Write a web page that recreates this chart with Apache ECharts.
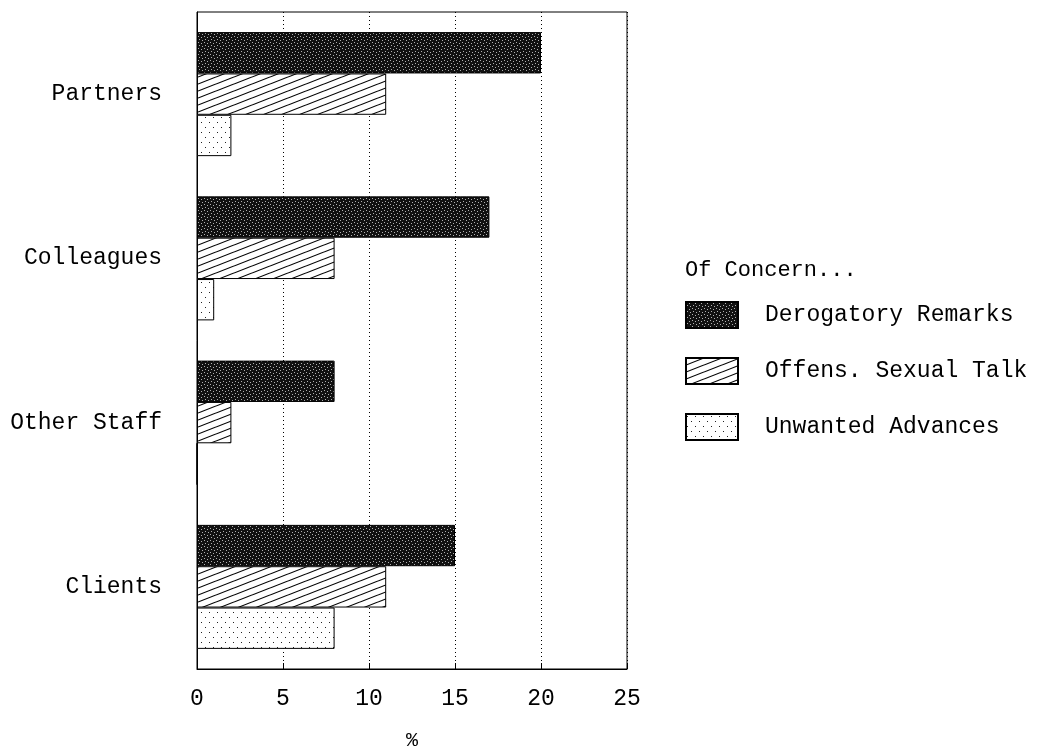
<!DOCTYPE html>
<html>
<head>
<meta charset="utf-8">
<script src="https://cdn.jsdelivr.net/npm/echarts@6/dist/echarts.min.js"></script>
<style>html,body{margin:0;padding:0;background:#fff;}#chart{width:1048px;height:746px;}</style>
</head>
<body>
<div id="chart"></div>
<script>
const categories = ['Partners', 'Colleagues', 'Other Staff', 'Clients'];
const seriesNames = ['Derogatory Remarks', 'Offens. Sexual Talk', 'Unwanted Advances'];
const derogatory = [20, 17, 8, 15];
const offensTalk = [11, 8, 2, 11];
const unwanted = [2, 1, 0, 8];
const xTicks = [0, 5, 10, 15, 20, 25];

function makeTile(w, h, draw) {
  const c = document.createElement('canvas');
  c.width = w; c.height = h;
  const ctx = c.getContext('2d');
  draw(ctx, w, h);
  return { image: c, repeat: 'repeat' };
}
const darkPattern = makeTile(6, 6, (ctx) => {
  ctx.fillStyle = '#111'; ctx.fillRect(0, 0, 6, 6);
  ctx.fillStyle = '#b0b0b0';
  [[0,0],[3,1],[1,3],[4,4]].forEach(p => ctx.fillRect(p[0], p[1], 1, 1));
});
const hatchPattern = makeTile(18, 7, (ctx) => {
  ctx.fillStyle = '#fff'; ctx.fillRect(0, 0, 18, 7);
  ctx.strokeStyle = '#000'; ctx.lineWidth = 1.1;
  for (let k = -1; k <= 1; k++) {
    ctx.beginPath();
    ctx.moveTo(-18 + k * 18, 14);
    ctx.lineTo(36 + k * 18, -7);
    ctx.stroke();
  }
});
const dotPattern = makeTile(8, 10, (ctx) => {
  ctx.fillStyle = '#fff'; ctx.fillRect(0, 0, 8, 10);
  ctx.fillStyle = '#222';
  ctx.fillRect(1, 2, 1, 1);
  ctx.fillRect(5, 7, 1, 1);
});

const font = '"Liberation Mono", "DejaVu Sans Mono", monospace';
const chart = echarts.init(document.getElementById('chart'), null, { renderer: 'canvas' });
const mk = (name, data, color) => ({
  name, type: 'bar', data,
  barGap: '0%', barCategoryGap: '24.5%',
  itemStyle: { color, borderColor: '#000', borderWidth: 1 },
  emphasis: { disabled: true },
  animation: false
});
chart.setOption({
  animation: false,
  backgroundColor: '#fff',
  title: {
    text: 'Of Concern...', left: 680, top: 254,
    textStyle: { fontFamily: font, fontSize: 22, fontWeight: 'normal', color: '#000' }
  },
  legend: {
    orient: 'vertical', left: 680, top: 296,
    itemWidth: 52, itemHeight: 26, itemGap: 28,
    icon: 'rect',
    textStyle: { fontFamily: font, fontSize: 23, color: '#000', padding: [0, 0, 0, 22] },
    data: seriesNames
  },
  grid: { left: 197, right: 421, top: 12, bottom: 77, outerBoundsMode: 'none', containLabel: false,
    show: true, borderColor: '#000', borderWidth: 1 },
  xAxis: {
    type: 'value', min: 0, max: 25, interval: 5,
    name: '%', nameLocation: 'middle', nameGap: 62,
    nameTextStyle: { fontFamily: font, fontSize: 20, color: '#000' },
    axisLine: { show: true, lineStyle: { color: '#000' } },
    axisTick: { show: true, inside: true, length: 6, lineStyle: { color: '#000' } },
    axisLabel: { fontFamily: font, fontSize: 23, color: '#000', margin: 18,
      formatter: v => xTicks.includes(v) ? String(v) : '' },
    splitLine: { show: true, lineStyle: { color: '#000', type: [1, 3], width: 1 } }
  },
  yAxis: {
    type: 'category', data: categories, inverse: true,
    axisLine: { show: true, lineStyle: { color: '#000' } },
    axisTick: { show: false },
    axisLabel: { fontFamily: font, fontSize: 23, color: '#000', margin: 35 }
  },
  series: [
    mk(seriesNames[0], derogatory, darkPattern),
    mk(seriesNames[1], offensTalk, hatchPattern),
    mk(seriesNames[2], unwanted, dotPattern)
  ]
});
</script>
</body>
</html>
